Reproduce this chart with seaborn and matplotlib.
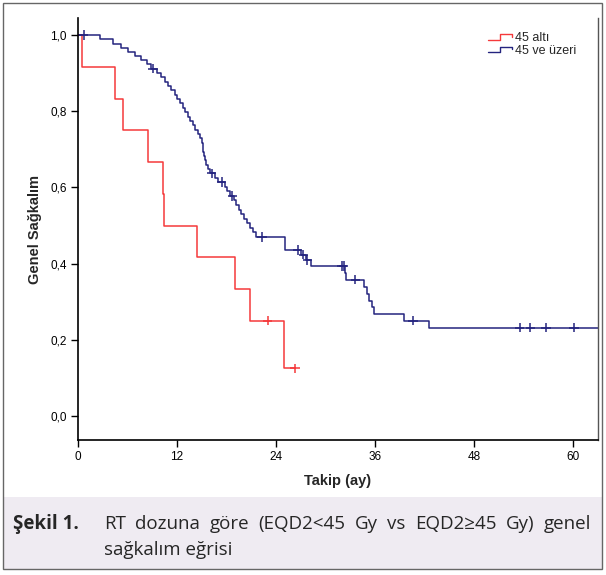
import matplotlib

matplotlib.use("Agg")
import matplotlib.pyplot as plt
import numpy as np
import pandas as pd
import seaborn as sns
from matplotlib.legend_handler import HandlerBase
from matplotlib.lines import Line2D
from matplotlib.patches import Rectangle

GROUPS = ["45 altı", "45 ve üzeri"]
COLORS = ["#f5393b", "#24247f"]

# 45 altı: time of each drop and survival after it
LOW_TIMES = [0.0, 0.45, 4.5, 5.4, 8.5, 10.3, 10.4, 14.4, 19.0, 20.8, 24.9, 26.3]
LOW_SURV = [1.0, 0.917, 0.833, 0.750, 0.667, 0.583, 0.500, 0.417, 0.333, 0.250, 0.125, 0.125]
LOW_CENS_T = [23.0, 26.3]
LOW_CENS_S = [0.250, 0.125]

# 45 ve üzeri
HIGH_TIMES = [0.0, 2.7, 4.3, 5.2, 6.0, 6.9, 7.6, 8.3, 8.9, 9.6, 10.1, 10.5, 10.9, 11.3,
              11.7, 12.0, 12.4, 12.7, 13.0, 13.3, 13.6, 13.9, 14.2, 14.5, 14.8, 15.0,
              15.1, 15.2, 15.3, 15.4, 15.5, 15.8, 16.0, 16.6, 17.0, 17.8, 18.1, 18.4,
              18.9, 19.2, 19.5, 19.8, 20.1, 20.5, 20.8, 21.2, 21.6, 25.1, 27.0, 27.6,
              28.2, 32.3, 32.5, 34.6, 35.0, 35.3, 35.6, 35.9, 39.5, 42.5, 64.0]
HIGH_SURV = [1.000, 0.989, 0.978, 0.967, 0.956, 0.945, 0.934, 0.923, 0.912, 0.901, 0.889,
             0.878, 0.867, 0.855, 0.844, 0.832, 0.821, 0.809, 0.798, 0.786, 0.775, 0.763,
             0.752, 0.740, 0.729, 0.717, 0.706, 0.694, 0.683, 0.671, 0.660, 0.648, 0.637,
             0.625, 0.614, 0.602, 0.590, 0.578, 0.566, 0.554, 0.542, 0.530, 0.518, 0.506,
             0.494, 0.482, 0.470, 0.436, 0.424, 0.410, 0.394, 0.376, 0.358, 0.339, 0.321,
             0.303, 0.286, 0.268, 0.250, 0.232, 0.232]
HIGH_CENS_T = [0.7, 9.1, 16.2, 17.4, 18.7, 22.3, 26.6, 27.3, 27.8, 32.0, 32.2, 33.6,
               40.6, 53.5, 54.8, 56.7, 60.1]
HIGH_CENS_S = [1.000, 0.912, 0.637, 0.614, 0.578, 0.470, 0.436, 0.424, 0.410, 0.394,
               0.394, 0.358, 0.250, 0.232, 0.232, 0.232, 0.232]

X_TICKS = [0, 12, 24, 36, 48, 60]
Y_TICKS = [0.0, 0.2, 0.4, 0.6, 0.8, 1.0]
Y_TICK_LABELS = ["0,0", "0,2", "0,4", "0,6", "0,8", "1,0"]

CAPTION_HEAD = "Şekil 1."
CAPTION_LINE1 = "RT dozuna göre (EQD2<45 Gy vs EQD2≥45 Gy) genel"
CAPTION_LINE2 = "sağkalım eğrisi"

W, H = 606, 575


def fx(px):
    return px / W


def fy(py):
    return 1 - py / H


class StepHandler(HandlerBase):
    def create_artists(self, legend, orig_handle, xdescent, ydescent, width, height, fontsize, trans):
        xs = np.array([0.0, 0.45, 0.45, 0.95, 0.95]) * width - xdescent
        ys = np.array([0.2, 0.2, 0.85, 0.85, 0.55]) * height - ydescent
        line = Line2D(xs, ys, color=orig_handle.get_color(), lw=1.0)
        line.set_transform(trans)
        return [line]


sns.set_theme(style="white")
plt.rcParams["font.family"] = ["Liberation Sans", "DejaVu Sans"]

curves = pd.concat(
    [
        pd.DataFrame({"t": LOW_TIMES, "s": LOW_SURV, "grup": GROUPS[0]}),
        pd.DataFrame({"t": HIGH_TIMES, "s": HIGH_SURV, "grup": GROUPS[1]}),
    ],
    ignore_index=True,
)
censored = pd.concat(
    [
        pd.DataFrame({"t": LOW_CENS_T, "s": LOW_CENS_S, "grup": GROUPS[0]}),
        pd.DataFrame({"t": HIGH_CENS_T, "s": HIGH_CENS_S, "grup": GROUPS[1]}),
    ],
    ignore_index=True,
)
palette = dict(zip(GROUPS, COLORS))

fig = plt.figure(figsize=(W / 100, H / 100), dpi=100)
ax = fig.add_axes([fx(78), fy(440), fx(598) - fx(78), fy(18) - fy(440)])

sns.lineplot(data=curves, x="t", y="s", hue="grup", palette=palette, estimator=None,
             sort=False, drawstyle="steps-post", lw=1.1, ax=ax, legend=False)
sns.scatterplot(data=censored, x="t", y="s", hue="grup", palette=palette, marker="+",
                s=45, linewidth=1.1, ax=ax, legend=False, zorder=3)

ax.set_xlim(0, 63)
ax.set_ylim(-0.063, 1.045)
ax.set_xticks(X_TICKS)
ax.set_xticklabels([str(v) for v in X_TICKS])
ax.set_yticks(Y_TICKS)
ax.set_yticklabels(Y_TICK_LABELS)
ax.tick_params(axis="both", direction="out", length=5, width=1, colors="black",
               labelsize=8.5, pad=3, left=True, bottom=True)
for side in ["left", "bottom"]:
    ax.spines[side].set_color("black")
    ax.spines[side].set_linewidth(1.2)
ax.spines["top"].set_visible(False)
ax.spines["right"].set_color("#555555")
ax.spines["right"].set_linewidth(1.0)
ax.set_xlabel("Takip (ay)", fontsize=10.5, fontweight="bold", labelpad=8)
ax.set_ylabel("Genel Sağkalım", fontsize=10.5, fontweight="bold", labelpad=6)

handles = [Line2D([], [], color=c) for c in COLORS]
ax.legend(handles, GROUPS, handler_map={Line2D: StepHandler()}, loc="upper right",
          bbox_to_anchor=(0.985, 1.0), frameon=False, fontsize=9, handlelength=2.0,
          handletextpad=0.1, labelspacing=0.05, borderaxespad=0.75)

# caption box and outer frame
fig.patches.append(Rectangle((fx(3), fy(569)), fx(602) - fx(3), fy(497) - fy(569),
                             transform=fig.transFigure, facecolor="#efebf2", edgecolor="none",
                             zorder=0))
fig.patches.append(Rectangle((fx(3), fy(569)), fx(602) - fx(3), fy(3) - fy(569),
                             transform=fig.transFigure, facecolor="none", edgecolor="#666666",
                             lw=1.0, zorder=5))

cap_font = ["Open Sans", "DejaVu Sans"]
cap_size = 13.5
fig.text(fx(13), fy(524), CAPTION_HEAD, fontsize=cap_size, fontweight="bold", family=cap_font,
         va="center", ha="left")

# justify first caption line between x=104 and x=590
fig.canvas.draw()
renderer = fig.canvas.get_renderer()
words = CAPTION_LINE1.split(" ")
word_texts = [fig.text(0, fy(524), w_, fontsize=cap_size, family=cap_font, va="center", ha="left")
              for w_ in words]
widths = [t.get_window_extent(renderer).width for t in word_texts]
left, right = 104, 591
gap = (right - left - sum(widths)) / (len(words) - 1)
pos = left
for t, wd in zip(word_texts, widths):
    t.set_x(fx(pos))
    pos += wd + gap
fig.text(fx(104), fy(550), CAPTION_LINE2, fontsize=cap_size, family=cap_font, va="center", ha="left")

fig.savefig("out.png", dpi=100)
